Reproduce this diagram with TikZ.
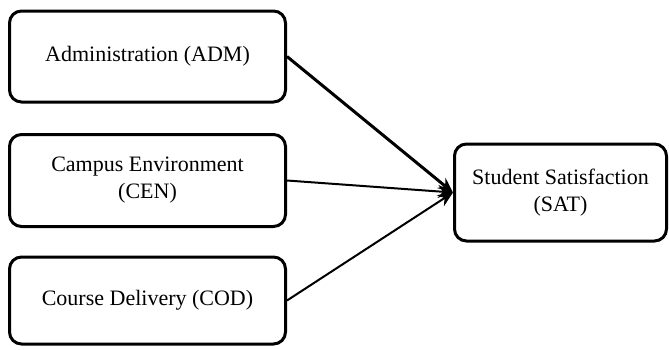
\documentclass[tikz,border=0pt]{standalone}
\usepackage{fontspec}
\setmainfont{Liberation Serif}
\usetikzlibrary{arrows.meta}
\begin{document}
\begin{tikzpicture}[x=1pt,y=-1pt,
  box/.style={draw=black,line width=3pt,rounded corners=12pt,fill=white,
    align=center,inner sep=0pt,font=\fontsize{22}{27}\selectfont},
  conn/.style={line width=2pt,-{Stealth[length=15pt,width=13pt]}}]
\useasboundingbox (0,0) rectangle (669,349);
\node[box,minimum width=276pt,minimum height=91pt] (adm) at (147.5,56.5) {Administration (ADM)};
\node[box,minimum width=276pt,minimum height=92pt] (cen) at (147.5,180.5) {Campus Environment\\(CEN)};
\node[box,minimum width=276pt,minimum height=87pt] (cod) at (147.5,300.5) {Course Delivery (COD)};
\node[box,minimum width=212pt,minimum height=97pt] (sat) at (560.5,192.5) {Student Satisfaction\\(SAT)};
\draw[conn,line width=3pt] (adm.east) -- (sat.west);
\draw[conn] (cen.east) -- (sat.west);
\draw[conn] (cod.east) -- (sat.west);
\end{tikzpicture}
\end{document}
